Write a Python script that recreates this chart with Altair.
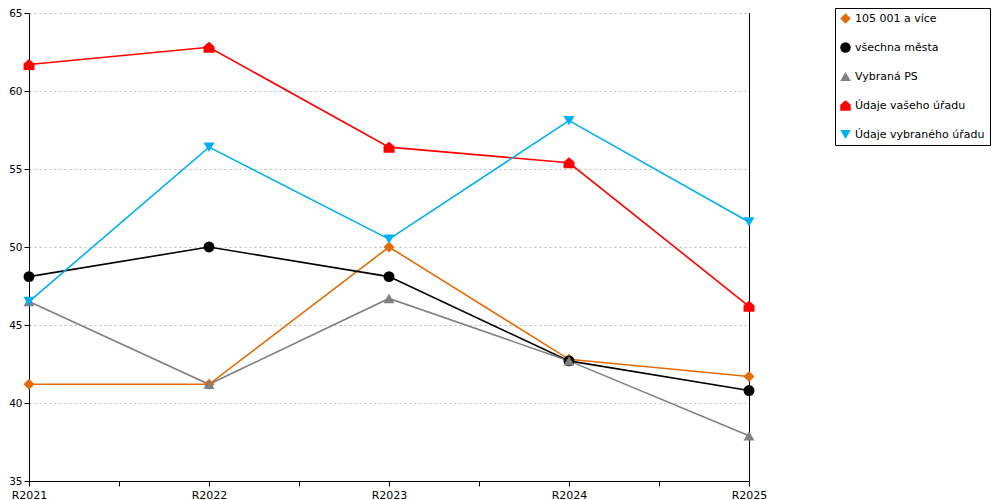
import altair as alt
import pandas as pd

categories = ["R2021", "R2022", "R2023", "R2024", "R2025"]
series_names = ["105 001 a více", "všechna města", "Vybraná PS", "Údaje vašeho úřadu", "Údaje vybraného úřadu"]
s_orange = [41.2, 41.2, 50.0, 42.8, 41.7]
s_black = [48.1, 50.0, 48.1, 42.7, 40.8]
s_gray = [46.5, 41.2, 46.7, 42.7, 37.9]
s_red = [61.7, 62.8, 56.4, 55.4, 46.2]
s_cyan = [46.5, 56.4, 50.5, 58.1, 51.6]
colors = ["#E36C09", "#000000", "#808080", "#FF0000", "#00B0F0"]
house = "M-1,1L-1,-0.15L0,-1L1,-0.15L1,1Z"
shapes = ["diamond", "circle", "triangle-up", house, "triangle-down"]

rows = []
for name, vals in zip(series_names, [s_orange, s_black, s_gray, s_red, s_cyan]):
    for i, (c, v) in enumerate(zip(categories, vals)):
        rows.append({"series": name, "idx": i, "cat": c, "value": v})
df = pd.DataFrame(rows)

W, H = 720, 468
label_arr = "[" + ",".join("'" + c + "'" for c in categories) + "]"
label_expr = "datum.value % 1 == 0 ? " + label_arr + "[datum.value] : ''"
xaxis = alt.Axis(
    values=[i * 0.5 for i in range(2 * (len(categories) - 1) + 1)],
    labelExpr=label_expr,
    grid=False, domainColor="black", tickColor="black", tickSize=5,
    labelColor="black", labelFont="DejaVu Sans", labelFontSize=11,
    labelPadding=3, labelOverlap=False, labelFlush=False, labelBound=False, title=None,
)
yaxis = alt.Axis(
    values=[35, 40, 45, 50, 55, 60, 65], grid=True, gridDash=[2, 3], gridColor="#BBBBBB",
    domainColor="black", tickColor="black", tickSize=5, labelPadding=2,
    labelColor="black", labelFont="DejaVu Sans", labelFontSize=10.5, title=None,
)
x = alt.X("idx:Q", scale=alt.Scale(domain=[0, len(categories) - 1], nice=False), axis=xaxis)
y = alt.Y("value:Q", scale=alt.Scale(domain=[35, 65], nice=False), axis=yaxis)

line_layers = [
    alt.Chart(df[df["series"] == name]).mark_line(strokeWidth=1.6, color=col).encode(
        x=x, y=y, order=alt.Order("idx:Q")
    )
    for name, col in zip(series_names, colors)
]
leg = alt.Legend(orient="none", legendX=806, legendY=-5)
points = alt.Chart(df).mark_point(filled=True, opacity=1, size=120).encode(
    x=x, y=y,
    color=alt.Color("series:N", scale=alt.Scale(domain=series_names, range=colors), title=None, legend=leg),
    shape=alt.Shape("series:N", scale=alt.Scale(domain=series_names, range=shapes), title=None, legend=leg),
)
right = alt.Chart(pd.DataFrame({"idx": [len(categories) - 1]})).mark_rule(
    color="black", strokeWidth=1, xOffset=0.5
).encode(x=alt.X("idx:Q"), y=alt.value(0), y2=alt.value(H))

chart = alt.layer(*line_layers, right, points).properties(
    width=W, height=H,
    autosize=alt.AutoSizeParams(type="none"),
    padding={"left": 21, "top": 5, "right": 243, "bottom": 19},
).configure_view(stroke=None).configure_legend(
    strokeColor="black", fillColor="white",
    padding=5, rowPadding=17, symbolSize=110, labelFont="DejaVu Sans", labelFontSize=11,
    labelColor="black", labelOffset=4, symbolStrokeWidth=0, labelLimit=300,
)

chart.save("out.html", embed_options={"renderer": "svg", "actions": False})
